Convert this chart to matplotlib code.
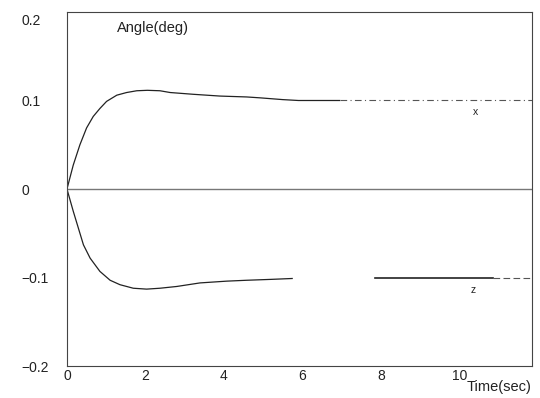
import numpy as np
import matplotlib
matplotlib.use("Agg")
import matplotlib.pyplot as plt
import matplotlib.transforms as mtransforms

# Data
t_x = [0, 0.16, 0.33, 0.50, 0.67, 0.84, 1.01, 1.27, 1.52, 1.78, 2.05, 2.37, 2.63,
       3.22, 3.9, 4.58, 4.92, 5.5, 5.9, 6.95]
x_vals = [0, 0.027, 0.050, 0.069, 0.082, 0.091, 0.099, 0.106, 0.109, 0.111, 0.1115,
          0.111, 0.109, 0.107, 0.105, 0.104, 0.103, 0.101, 0.100, 0.100]
t_x_tail = [6.95, 11.85]
x_tail = [0.100, 0.100]

t_z = [0, 0.16, 0.29, 0.42, 0.59, 0.84, 1.10, 1.35, 1.69, 2.03, 2.37, 2.80, 3.39,
       4.07, 4.58, 5.2, 5.74]
z_vals = [0, -0.025, -0.044, -0.063, -0.078, -0.093, -0.103, -0.108, -0.112, -0.113,
          -0.112, -0.110, -0.106, -0.104, -0.103, -0.102, -0.101]
t_z_late = [7.86, 10.87]
z_late = [-0.100, -0.100]
t_z_tail = [10.87, 11.85]
z_tail = [-0.100, -0.100]

xticks = [0, 2, 4, 6, 8, 10]
yticks = [-0.2, -0.1, 0, 0.1, 0.2]
yticklabels = ["\u22120.2", "\u22120.1", "0", "0.1", "0.2"]

plt.rcParams['font.family'] = ['Liberation Sans', 'DejaVu Sans']
fig = plt.figure(figsize=(5.4, 3.98), dpi=100)
ax = fig.add_axes([0.124, 0.080, 0.861, 0.890])
ax.set_xlim(0, 11.85)
ax.set_ylim(-0.2, 0.2)

c = '#222222'
ax.plot(t_x, x_vals, color=c, lw=0.9)
ax.plot(t_x_tail, x_tail, color='#555555', lw=0.8, ls=(0, (6, 3, 1, 3)))
ax.plot(t_z, z_vals, color=c, lw=0.9)
ax.plot(t_z_late, z_late, color=c, lw=1.2)
ax.plot(t_z_tail, z_tail, color='#555555', lw=0.8, ls=(0, (6, 3)))
ax.axhline(0, color='#777777', lw=1.0)

for s in ax.spines.values():
    s.set_color('#444444')
    s.set_linewidth(0.8)

ax.set_xticks(xticks)
ax.set_yticks(yticks)
ax.set_yticklabels(yticklabels)
ax.tick_params(length=0, labelsize=10, colors='#222222')
ax.tick_params(axis='y', pad=33)
ax.tick_params(axis='x', pad=2)
for lab in ax.get_yticklabels():
    lab.set_horizontalalignment('left')
# the top label sits a little below its value in the reference
ylabs = ax.get_yticklabels()
ylabs[-1].set_transform(ylabs[-1].get_transform() +
                        mtransforms.ScaledTranslation(0, -8 / 100, fig.dpi_scale_trans))

ax.text(1.28, 0.182, "Angle(deg)", fontsize=10.5, color='#222222', va='center')
ax.text(11.85, -0.2235, "Time(sec)", fontsize=10.5, color='#222222', ha='right', va='center',
        clip_on=False)
ax.text(10.4, 0.087, "x", fontsize=7.5, color='#222222', ha='center', va='center')
ax.text(10.35, -0.114, "z", fontsize=7.5, color='#222222', ha='center', va='center')

fig.savefig("out.png", dpi=100)
